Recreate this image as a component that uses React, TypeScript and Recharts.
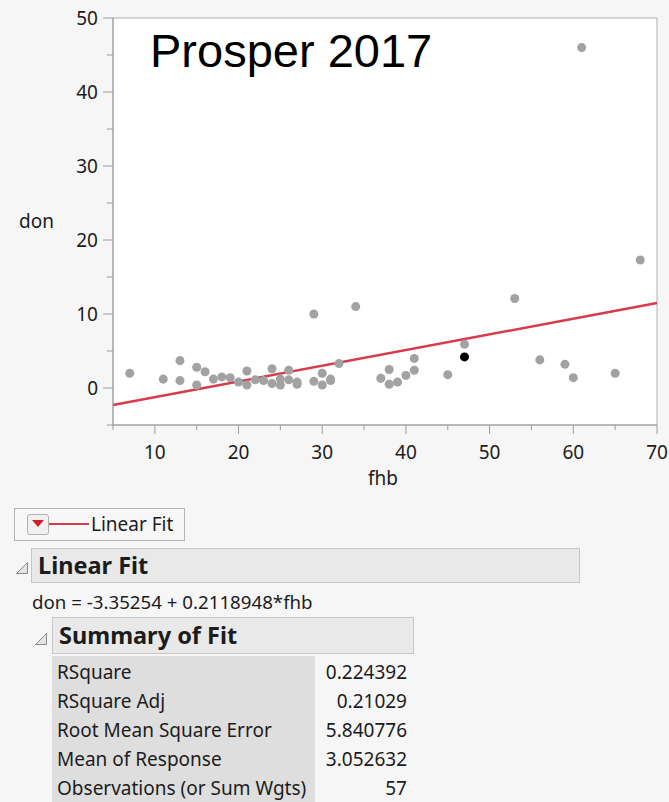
import {
  ScatterChart,
  Scatter,
  XAxis,
  YAxis,
  ZAxis,
  CartesianGrid,
  ReferenceLine,
  ReferenceArea,
} from 'recharts';

// fhb / don observations (overlapping points merged)
const fhbValues = [
  7, 11, 13, 13, 15, 15, 16, 17, 18, 19, 20, 21, 21, 22, 23, 24, 24, 25, 25, 26, 26, 27, 27,
  29, 29, 30, 30, 31, 31, 32, 34, 37, 38, 38, 39, 40, 41, 41, 45, 47, 53, 56, 59, 60, 61, 65, 68,
];
const donValues = [
  2.0, 1.2, 3.7, 1.0, 2.8, 0.4, 2.2, 1.2, 1.5, 1.4, 0.8, 2.3, 0.4, 1.1, 1.0, 2.6, 0.6, 1.2, 0.4, 2.4, 1.1, 0.8, 0.5,
  10.0, 0.9, 2.0, 0.4, 1.2, 1.0, 3.3, 11.0, 1.3, 2.5, 0.5, 0.8, 1.7, 2.4, 4.0, 1.8, 5.9, 12.1, 3.8, 3.2, 1.4, 46.0, 2.0, 17.3,
];

// highlighted (selected) row
const selectedFhb = [47];
const selectedDon = [4.2];

// fit coefficients from the report
const intercept = -3.35254;
const slope = 0.2118948;

const xDomain = [5, 70];
const yDomain = [-5, 50];
const xTicks = [5, 10, 15, 20, 25, 30, 35, 40, 45, 50, 55, 60, 65, 70];
const yTicks = [-5, 0, 5, 10, 15, 20, 25, 30, 35, 40, 45, 50];

const summaryLabels = [
  'RSquare',
  'RSquare Adj',
  'Root Mean Square Error',
  'Mean of Response',
  'Observations (or Sum Wgts)',
];
const summaryValues = ['0.224392', '0.21029', '5.840776', '3.052632', '57'];

const points = fhbValues.map((x, i) => ({ fhb: x, don: donValues[i] }));
const selected = selectedFhb.map((x, i) => ({ fhb: x, don: selectedDon[i] }));

const UI_FONT = '"Noto Sans", "Open Sans", sans-serif';
const TICK_COLOR = '#9c9c9c';
const TEXT_COLOR = '#1c1c1c';
const FIT_RED = '#d8394b';

function XTick(props: any) {
  const { x, y, payload } = props;
  const major = payload.value % 10 === 0;
  return (
    <g>
      <line x1={x} x2={x} y1={y} y2={y + (major ? 9 : 5)} stroke={TICK_COLOR} />
      {major && (
        <text x={x} y={y + 27} dy="0.35em" textAnchor="middle" fontSize={19} fontFamily={UI_FONT} fill={TEXT_COLOR}>
          {payload.value}
        </text>
      )}
    </g>
  );
}

function YTick(props: any) {
  const { x, y, payload } = props;
  const major = payload.value % 10 === 0;
  return (
    <g>
      <line x1={x - (major ? 10 : 6)} x2={x} y1={y} y2={y} stroke={TICK_COLOR} />
      {major && (
        <text x={x - 15} y={y} dy="0.35em" textAnchor="end" fontSize={19} fontFamily={UI_FONT} fill={TEXT_COLOR}>
          {payload.value}
        </text>
      )}
    </g>
  );
}

function Disclosure({ left, top }: { left: number; top: number }) {
  return (
    <svg style={{ position: 'absolute', left, top }} width={14} height={14}>
      <polygon points="12.5,1.5 12.5,12.5 1.5,12.5" fill="#e4e4e4" stroke="#8a8a8a" strokeWidth={1} />
    </svg>
  );
}

export default function App() {
  return (
    <div style={{ position: 'relative', width: 669, height: 802, background: '#f6f6f6', fontFamily: UI_FONT, color: TEXT_COLOR }}>
      <style>{`body{margin:0;background:#f6f6f6}`}</style>

      <div style={{ position: 'absolute', left: 0, top: 0 }}>
        <ScatterChart width={669} height={500} margin={{ top: 18, right: 12, bottom: 0, left: 0 }}>
          <CartesianGrid fill="#ffffff" horizontal={false} vertical={false} />
          <ReferenceArea x1={5} x2={70} y1={-5} y2={50} fill="none" stroke="#b0b0b0" ifOverflow="visible" />
          <XAxis
            type="number"
            dataKey="fhb"
            domain={xDomain}
            ticks={xTicks}
            interval={0}
            allowDataOverflow
            height={75}
            tickSize={0}
            tickMargin={0}
            tickLine={false}
            stroke={TICK_COLOR}
            tick={<XTick />}
            label={{
              content: (p: any) => (
                <text x={p.viewBox.x + p.viewBox.width / 2 - 2} y={478} dy="0.35em" textAnchor="middle" fontSize={19} fontFamily={UI_FONT} fill={TEXT_COLOR}>
                  fhb
                </text>
              ),
            }}
          />
          <YAxis
            type="number"
            dataKey="don"
            domain={yDomain}
            ticks={yTicks}
            interval={0}
            allowDataOverflow
            width={113}
            tickSize={0}
            tickMargin={0}
            tickLine={false}
            stroke={TICK_COLOR}
            tick={<YTick />}
            label={{
              content: () => (
                <text x={19} y={222} dy="0.3em" fontSize={19} fontFamily={UI_FONT} fill={TEXT_COLOR}>
                  don
                </text>
              ),
            }}
          />
          <ZAxis range={[70, 70]} />
          <Scatter data={points} fill="#a2a2a2" isAnimationActive={false} />
          <ReferenceLine
            segment={[
              { x: xDomain[0], y: intercept + slope * xDomain[0] },
              { x: xDomain[1], y: intercept + slope * xDomain[1] },
            ]}
            stroke={FIT_RED}
            strokeWidth={2.5}
          />
          <Scatter data={selected} fill="#000000" isAnimationActive={false} />
        </ScatterChart>
      </div>

      <div
        style={{
          position: 'absolute',
          left: 150,
          top: 27,
          fontFamily: '"Liberation Sans", Arial, sans-serif',
          fontSize: 47,
          lineHeight: '47px',
          color: '#000',
          pointerEvents: 'none',
          whiteSpace: 'nowrap',
        }}
      >
        Prosper 2017
      </div>

      {/* legend box */}
      <div style={{ position: 'absolute', left: 14, top: 508, width: 169, height: 31, border: '1px solid #b4b4b4', background: '#f7f7f7' }} />
      <div style={{ position: 'absolute', left: 27, top: 514, width: 20, height: 19, border: '1px solid #b0b0b0', borderRadius: 3, background: '#f0f0f0' }} />
      <div
        style={{
          position: 'absolute',
          left: 32,
          top: 520,
          width: 0,
          height: 0,
          borderLeft: '6px solid transparent',
          borderRight: '6px solid transparent',
          borderTop: '7px solid #d01e2a',
        }}
      />
      <div style={{ position: 'absolute', left: 49, top: 523, width: 40, height: 2, background: FIT_RED }} />
      <div style={{ position: 'absolute', left: 91, top: 510, fontSize: 19, lineHeight: '28px', whiteSpace: 'nowrap' }}>Linear Fit</div>

      {/* Linear Fit header */}
      <Disclosure left={15} top={561} />
      <div
        style={{
          position: 'absolute',
          left: 31,
          top: 548,
          width: 547,
          height: 33,
          border: '1px solid #c6c6c6',
          background: '#e9e9e9',
          boxSizing: 'content-box',
        }}
      />
      <div style={{ position: 'absolute', left: 38, top: 548, fontSize: 23.5, fontWeight: 700, lineHeight: '35px', whiteSpace: 'nowrap' }}>
        Linear Fit
      </div>

      <div style={{ position: 'absolute', left: 32, top: 588, fontSize: 18.7, lineHeight: '28px', whiteSpace: 'nowrap' }}>
        don = -3.35254 + 0.2118948*fhb
      </div>

      {/* Summary of Fit header */}
      <Disclosure left={34} top={632} />
      <div
        style={{
          position: 'absolute',
          left: 52,
          top: 617,
          width: 360,
          height: 35,
          border: '1px solid #c6c6c6',
          background: '#e9e9e9',
        }}
      />
      <div style={{ position: 'absolute', left: 59, top: 617, fontSize: 23.5, fontWeight: 700, lineHeight: '37px', whiteSpace: 'nowrap' }}>
        Summary of Fit
      </div>

      {/* summary table */}
      <div style={{ position: 'absolute', left: 52, top: 656, width: 263, height: 146, background: '#dedede' }} />
      {summaryLabels.map((label, i) => (
        <div key={label}>
          <div style={{ position: 'absolute', left: 57, top: 658 + i * 29, fontSize: 19, lineHeight: '29px', whiteSpace: 'nowrap' }}>
            {label}
          </div>
          <div
            style={{
              position: 'absolute',
              left: 315,
              width: 92,
              top: 658 + i * 29,
              fontSize: 19,
              lineHeight: '29px',
              textAlign: 'right',
              whiteSpace: 'nowrap',
            }}
          >
            {summaryValues[i]}
          </div>
        </div>
      ))}
    </div>
  );
}
